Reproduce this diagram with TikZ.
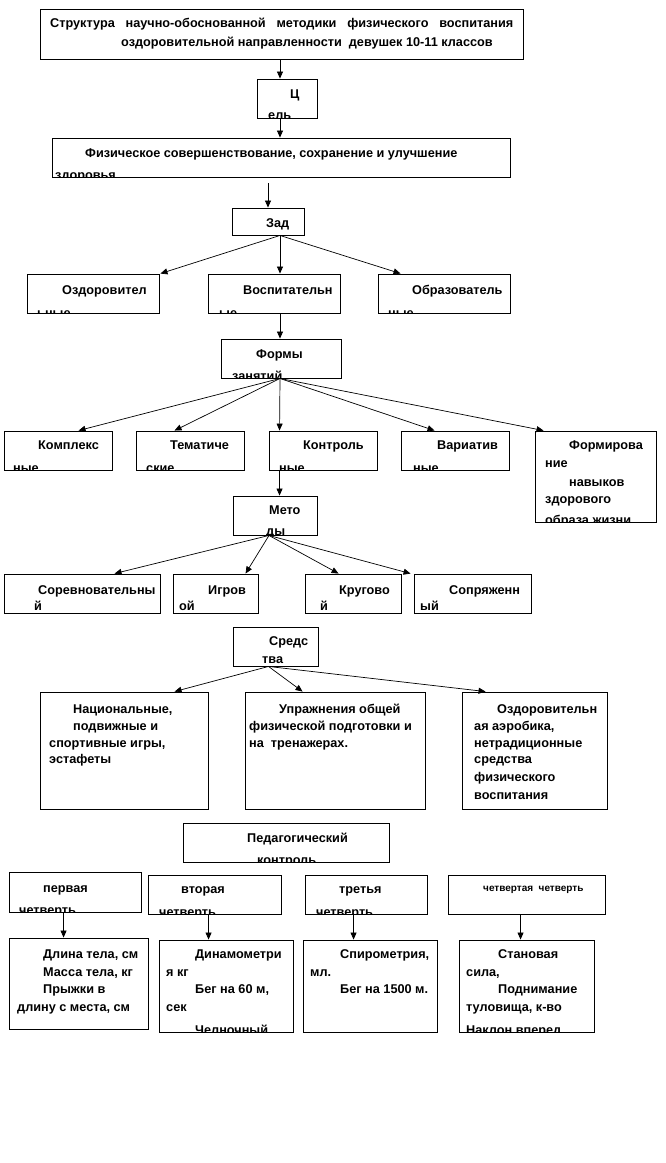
\documentclass[tikz,border=0pt]{standalone}
\usepackage{fontspec}
\setmainfont{Liberation Sans}
\usetikzlibrary{arrows.meta,fit,calc}
\tikzset{
  bx/.style={draw, line width=0.9pt, inner sep=0pt},
  txt/.style={anchor=base west, inner sep=0pt, font=\bfseries\fontsize{12.7}{15}\selectfont},
  smalltxt/.style={txt, font=\bfseries\fontsize{10}{12}\selectfont},
  arr/.style={line width=0.7pt, -{Triangle[length=7pt,width=6pt]}},
}
\newcounter{lnc}
\newcommand\tl[3]{\stepcounter{lnc}\node[txt] (L\arabic{lnc}) at (#1,#2) {#3};}
\newcommand\tls[3]{\stepcounter{lnc}\node[smalltxt] (L\arabic{lnc}) at (#1,#2) {#3};}
\newcommand\mkbox[6]{%
  \coordinate (#1-a) at (#2,#3); \coordinate (#1-b) at (#4,#5);
  \begin{scope}\clip (#1-a) rectangle (#1-b); #6 \end{scope}
  \node[bx, fit=(#1-a)(#1-b)] (#1) {};
}
\begin{document}
\begin{tikzpicture}[x=1pt,y=-1pt]
\useasboundingbox (0,0) rectangle (665,1163);
\fill[white] (0,0) rectangle (665,1163);

\mkbox{title}{40}{9}{523}{59}{%
  \tl{50}{27}{\hbox to 463pt{Структура\hfill научно-обоснованной\hfill методики\hfill физического\hfill воспитания}}
  \tl{121}{46}{оздоровительной направленности \ девушек 10-11 классов}}
\mkbox{cel}{257}{79}{317}{118}{\tl{290}{98}{Ц}\tl{268}{119}{ель}}
\mkbox{fiz}{52}{138}{510}{177}{%
  \tl{85}{157}{Физическое совершенствование, сохранение и улучшение}
  \tl{55}{179}{здоровья}}
\mkbox{zad}{232}{208}{304}{235}{\tl{266}{227}{Зад}}

\mkbox{t1}{27}{274}{159}{313}{\tl{62}{294}{Оздоровител}\tl{37}{317}{ьные}}
\mkbox{t2}{208}{274}{340}{313}{\tl{243}{294}{Воспитательн}\tl{219}{317}{ые}}
\mkbox{t3}{378}{274}{510}{313}{\tl{412}{294}{Образователь}\tl{388}{317}{ные}}

\mkbox{formy}{221}{339}{341}{378}{\tl{256}{358}{Формы}\tl{232}{380}{занятий}}

\mkbox{f1}{4}{431}{112}{470}{\tl{38}{449}{Комплекс}\tl{13}{472}{ные}}
\mkbox{f2}{136}{431}{244}{470}{\tl{170}{449}{Тематиче}\tl{146}{472}{ские}}
\mkbox{f3}{269}{431}{377}{470}{\tl{303}{449}{Контроль}\tl{279}{472}{ные}}
\mkbox{f4}{401}{431}{509}{470}{\tl{437}{449}{Вариатив}\tl{413}{472}{ные}}
\mkbox{f5}{535}{431}{656}{522}{%
  \tl{569}{449}{Формирова}\tl{545}{467}{ние}\tl{569}{486}{навыков}
  \tl{545}{503}{здорового}\tl{545}{524}{образа жизни}}

\mkbox{met}{233}{496}{317}{535}{\tl{269}{514}{Мето}\tl{266}{535}{ды}}

\mkbox{m1}{4}{574}{160}{613}{\tl{38}{594}{Соревновательны}\tl{34}{610}{й}}
\mkbox{m2}{173}{574}{258}{613}{\tl{208}{594}{Игров}\tl{179}{610}{ой}}
\mkbox{m3}{305}{574}{401}{613}{\tl{339}{594}{Кругово}\tl{320}{610}{й}}
\mkbox{m4}{414}{574}{531}{613}{\tl{449}{594}{Сопряженн}\tl{420}{610}{ый}}

\mkbox{sred}{233}{627}{318}{666}{\tl{269}{645}{Средс}\tl{262}{663}{тва}}

\mkbox{s1}{40}{692}{208}{809}{%
  \tl{73}{713}{Национальные,}\tl{73}{730}{подвижные и}
  \tl{49}{747}{спортивные игры,}\tl{49}{763}{эстафеты}}
\mkbox{s2}{245}{692}{425}{809}{%
  \tl{279}{713}{Упражнения общей}\tl{249}{730}{физической подготовки и}
  \tl{249}{747}{на \ тренажерах.}}
\mkbox{s3}{462}{692}{607}{809}{%
  \tl{497}{713}{Оздоровительн}\tl{474}{730}{ая аэробика,}
  \tl{474}{747}{нетрадиционные}\tl{474}{763}{средства}
  \tl{474}{781}{физического}\tl{474}{799}{воспитания}}

\mkbox{ped}{183}{823}{389}{862}{\tl{247}{842}{Педагогический}\tl{257}{864}{контроль}}

\mkbox{q1}{9}{872}{141}{912}{\tl{43}{892}{первая}\tl{19}{914}{четверть}}
\mkbox{q2}{148}{875}{281}{914}{\tl{181}{893}{вторая}\tl{159}{916}{четверть}}
\mkbox{q3}{305}{875}{427}{914}{\tl{339}{893}{третья}\tl{316}{916}{четверть}}
\mkbox{q4}{448}{875}{605}{914}{\tls{483}{891}{четвертая \ четверть}}

\mkbox{r1}{9}{938}{148}{1029}{%
  \tl{43}{958}{Длина тела, см}\tl{43}{976}{Масса тела, кг}
  \tl{43}{993}{Прыжки в}\tl{17}{1011}{длину с места, см}}
\mkbox{r2}{159}{940}{293}{1032}{%
  \tl{195}{958}{Динамометри}\tl{166}{976}{я кг}
  \tl{195}{993}{Бег на 60 м,}\tl{166}{1011}{сек}\tl{195}{1034}{Челночный}}
\mkbox{r3}{303}{940}{437}{1032}{%
  \tl{340}{958}{Спирометрия,}\tl{310}{976}{мл.}\tl{340}{993}{Бег на 1500 м.}}
\mkbox{r4}{459}{940}{594}{1032}{%
  \tl{498}{958}{Становая}\tl{466}{976}{сила,}\tl{498}{993}{Поднимание}
  \tl{466}{1011}{туловища, к-во}\tl{466}{1034}{Наклон вперед}}

% connectors
\draw[arr] ([xshift=-7pt]cel.north |- title.south) -- ([xshift=-7pt]cel.north);
\draw[arr] ([xshift=-7pt]cel.south) -- ([xshift=-7pt]cel.south |- fiz.north);
\coordinate (fz) at (268,183);
\draw[arr] (fz) -- (zad.north);
\coordinate (zo) at ([xshift=12pt]zad.south);
\draw[arr] (zo) -- ([xshift=1pt]t1.north east);
\draw[arr] (zo) -- (zo |- t2.north);
\draw[arr] (zo) -- ([xshift=23pt]t3.north west);
\draw[arr] ([xshift=6pt]t2.south) -- ([xshift=6pt]t2.south |- formy.north);
\coordinate (fo) at ([xshift=-1pt]formy.south);
\draw[arr] (fo) -- ([xshift=75pt]f1.north west);
\draw[arr] (fo) -- ([xshift=39pt]f2.north west);
\draw[arr] (fo) -- ([xshift=11pt]f3.north west);
\draw[arr] (fo) -- ([xshift=34pt]f4.north west);
\draw[arr] (fo) -- ([xshift=9pt]f5.north west);
\draw[arr] ([xshift=11pt]f3.south west) -- ([xshift=11pt]f3.south west |- met.north);
\coordinate (mo) at ([xshift=-6pt]met.south);
\draw[arr] (mo) -- ([xshift=111pt]m1.north west);
\draw[arr] (mo) -- ([xshift=73pt]m2.north west);
\draw[arr] (mo) -- ([xshift=34pt]m3.north west);
\draw[arr] (mo) -- ([xshift=-3pt]m4.north west);
\coordinate (so) at ([xshift=-7pt]sred.south);
\draw[arr] (so) -- ([xshift=135pt]s1.north west);
\draw[arr] (so) -- ([xshift=58pt]s2.north west);
\draw[arr] (so) -- ([xshift=24pt]s3.north west);
\draw[arr] ([xshift=55pt]q1.south west) -- ([xshift=55pt]q1.south west |- r1.north);
\draw[arr] ([xshift=61pt]q2.south west) -- ([xshift=61pt]q2.south west |- r2.north);
\draw[arr] ([xshift=49pt]q3.south west) -- ([xshift=49pt]q3.south west |- r3.north);
\draw[arr] ([xshift=73pt]q4.south west) -- ([xshift=73pt]q4.south west |- r4.north);
\end{tikzpicture}
\end{document}
